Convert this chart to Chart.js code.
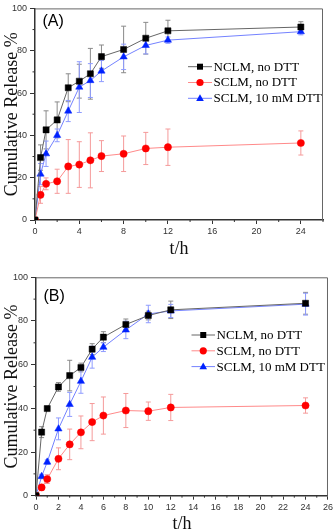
<!DOCTYPE html>
<html>
<head>
<meta charset="utf-8">
<script src="https://cdn.jsdelivr.net/npm/chart.js@4.4.0/dist/chart.umd.min.js"></script>
<style>
  html, body { margin: 0; padding: 0; background: #fff; }
  #wrap { position: relative; width: 335px; height: 532px; }
  canvas { position: absolute; left: 0; }
</style>
</head>
<body>
<div id="wrap">
  <canvas id="chartA" width="335" height="266" style="top:0"></canvas>
  <canvas id="chartB" width="335" height="266" style="top:266px"></canvas>
</div>
<script>
// temps (h)
var temps = [0, 0.5, 1, 2, 3, 4, 5, 6, 8, 10, 12, 24];
var series = ['NCLM, no DTT', 'SCLM, no DTT', 'SCLM, 10 mM DTT'];

// panneau (A)
var nclmA = [0, 29.5, 42.6, 47.3, 62.5, 65.6, 69.1, 77.2, 80.6, 85.9, 89.4, 91.2];
var nclmAErr = [0, 6, 9, 8.5, 6.6, 8, 12, 5.5, 11, 7.5, 5, 2.5];
var sclmA = [0, 11.9, 17.1, 18.3, 25.3, 26.2, 28.2, 30.2, 31.3, 33.8, 34.4, 36.4];
var sclmAErr = [0, 4, 2.8, 5.7, 12.7, 10.8, 13, 7.3, 8.4, 7.6, 8.6, 5.7];
var dttA = [0, 21.7, 31.3, 40, 51.5, 62.8, 65.9, 70.4, 77.1, 82.5, 85, 89];
var dttAErr = [0, 5, 6, 3, 5, 12, 8, 5, 6, 4, 1.5, 1.5];

// panneau (B)
var nclmB = [0, 29.1, 39.9, 49.8, 55, 58.7, 67.1, 72.6, 78.4, 82.5, 85.1, 88.1];
var nclmBErr = [0, 2.5, 1, 2, 7, 2, 2.5, 2.5, 2.5, 2, 4, 5];
var sclmB = [0, 3.8, 7.6, 16.9, 23.5, 29, 33.7, 36.7, 39, 38.7, 40.4, 41.3];
var sclmBErr = [0, 1, 2, 5, 7, 7.5, 8.5, 8.5, 7.8, 4.2, 6, 3.5];
var dttB = [0, 8.8, 15.4, 30.6, 41.8, 52.4, 63.4, 68, 75.9, 83.2, 84.6, 87.7];
var dttBErr = [0, 1, 1, 5, 5.5, 5.5, 5, 2, 4, 4, 3, 5];

// graduations
var yTicks = [0, 20, 40, 60, 80, 100];
var xTicksA = [0, 4, 8, 12, 16, 20, 24];
var xTicksB = [0, 2, 4, 6, 8, 10, 12, 14, 16, 18, 20, 22, 24, 26];

var styles = [
  { line: '#666666', fill: '#000000', err: '#8a8a8a', shape: 'rect', r: 4.3 },
  { line: '#ff8a8a', fill: '#ff0000', err: '#f59a9a', shape: 'circle', r: 3.6 },
  { line: '#7482ff', fill: '#0022ff', err: '#8f9cff', shape: 'triangle', r: 4.2 }
];

function pts(vals) {
  return temps.map(function (t, i) { return { x: t, y: vals[i] }; });
}

function makeDatasets(vals, errs) {
  return vals.map(function (v, k) {
    var s = styles[k];
    return {
      label: series[k],
      data: pts(v),
      errors: errs[k],
      errColor: s.err,
      borderColor: s.line,
      borderWidth: 1,
      tension: 0,
      pointStyle: s.shape,
      pointRadius: s.r,
      pointBackgroundColor: s.fill,
      pointBorderColor: s.fill,
      pointBorderWidth: 0.5,
      clip: 0
    };
  });
}

// barres d'erreur
var errorBars = {
  id: 'errorBars',
  beforeDatasetsDraw: function (chart) {
    var ctx = chart.ctx;
    var ys = chart.scales.y;
    chart.data.datasets.forEach(function (ds, k) {
      var meta = chart.getDatasetMeta(k);
      ctx.save();
      ctx.strokeStyle = ds.errColor;
      ctx.lineWidth = 1;
      meta.data.forEach(function (p, i) {
        var e = ds.errors[i];
        if (!e) return;
        var v = ds.data[i].y;
        var top = ys.getPixelForValue(v + e);
        var bot = ys.getPixelForValue(v - e);
        ctx.beginPath();
        ctx.moveTo(p.x, top); ctx.lineTo(p.x, bot);
        ctx.moveTo(p.x - 2.5, top); ctx.lineTo(p.x + 2.5, top);
        ctx.moveTo(p.x - 2.5, bot); ctx.lineTo(p.x + 2.5, bot);
        ctx.stroke();
      });
      ctx.restore();
    });
  }
};

// cadre, petites graduations, étiquette et légende
var decor = {
  id: 'decor',
  afterDraw: function (chart, args, opts) {
    var ctx = chart.ctx;
    var a = chart.chartArea;
    var xs = chart.scales.x, ys = chart.scales.y;
    ctx.save();
    ctx.strokeStyle = '#666';
    ctx.lineWidth = 1;
    ctx.beginPath();
    ctx.moveTo(a.left, a.top + 0.5); ctx.lineTo(a.right - 0.5, a.top + 0.5); ctx.lineTo(a.right - 0.5, a.bottom);
    ctx.stroke();

    ctx.strokeStyle = '#333';
    ctx.beginPath();
    opts.minorX.forEach(function (t) {
      var x = xs.getPixelForValue(t);
      ctx.moveTo(x, a.bottom); ctx.lineTo(x, a.bottom + 2);
    });
    opts.minorY.forEach(function (t) {
      var y = ys.getPixelForValue(t);
      ctx.moveTo(a.left, y); ctx.lineTo(a.left - 2.5, y);
    });
    ctx.stroke();

    ctx.fillStyle = '#000';
    ctx.font = '16px "Liberation Sans", Arial, sans-serif';
    ctx.textBaseline = 'middle';
    ctx.textAlign = 'left';
    ctx.fillText(opts.tag, opts.tagX, opts.tagY);

    ctx.font = '13px "Liberation Serif", "Times New Roman", serif';
    series.forEach(function (name, k) {
      var s = styles[k];
      var y = opts.legY + k * opts.legDy;
      var cx = (opts.legX1 + opts.legX2) / 2;
      ctx.strokeStyle = s.line;
      ctx.lineWidth = 1;
      ctx.beginPath();
      ctx.moveTo(opts.legX1, y); ctx.lineTo(opts.legX2, y);
      ctx.stroke();
      ctx.fillStyle = s.fill;
      ctx.beginPath();
      if (s.shape === 'rect') {
        ctx.rect(cx - 3, y - 3, 6, 6);
      } else if (s.shape === 'circle') {
        ctx.arc(cx, y, 3.6, 0, Math.PI * 2);
      } else {
        ctx.moveTo(cx, y - 4); ctx.lineTo(cx + 3.8, y + 2.6); ctx.lineTo(cx - 3.8, y + 2.6); ctx.closePath();
      }
      ctx.fill();
      ctx.fillStyle = '#000';
      ctx.fillText(name, opts.legX2 + 1.5, y + 0.5);
    });
    ctx.restore();
  }
};

function makeChart(id, vals, errs, xTicks, cfg) {
  return new Chart(document.getElementById(id).getContext('2d'), {
    type: 'line',
    data: { datasets: makeDatasets(vals, errs) },
    options: {
      responsive: false,
      animation: false,
      layout: { padding: { top: cfg.top, right: cfg.right, left: 0, bottom: 0 } },
      plugins: {
        legend: { display: false },
        tooltip: { enabled: false },
        decor: cfg.decor
      },
      scales: {
        x: {
          type: 'linear',
          min: 0, max: 26,
          afterBuildTicks: function (s) { s.ticks = xTicks.map(function (v) { return { value: v }; }); },
          afterFit: function (s) { s.height = cfg.xh; },
          grid: { drawOnChartArea: false, drawTicks: true, tickLength: 4, tickColor: '#333' },
          border: { display: true, color: '#333', width: 1.5 },
          ticks: { autoSkip: false, maxRotation: 0, padding: 2, color: '#333',
                   font: { family: '"Liberation Sans", Arial, sans-serif', size: 9 } },
          title: { display: true, text: 't/h', color: '#111',
                   padding: { top: 0, bottom: cfg.xtPad },
                   font: { family: '"Liberation Serif", "Times New Roman", serif', size: 18, lineHeight: 1 } }
        },
        y: {
          min: 0, max: 100,
          afterBuildTicks: function (s) { s.ticks = yTicks.map(function (v) { return { value: v }; }); },
          afterFit: function (s) { s.width = cfg.yw; },
          grid: { drawOnChartArea: false, drawTicks: true, tickLength: 5, tickColor: '#333' },
          border: { display: true, color: '#333', width: 1.5 },
          ticks: { padding: 3, color: '#333',
                   font: { family: '"Liberation Sans", Arial, sans-serif', size: 9 } },
          title: { display: true, text: 'Cumulative Release %', color: '#111',
                   padding: { top: 3.5, bottom: 0 },
                   font: { family: '"Liberation Serif", "Times New Roman", serif', size: 18, lineHeight: 1 } }
        }
      }
    },
    plugins: [errorBars, decor]
  });
}

makeChart('chartA', [nclmA, sclmA, dttA], [nclmAErr, sclmAErr, dttAErr], xTicksA, {
  top: 5, right: 12, xh: 46, yw: 35, xtPad: 7.5,
  decor: {
    tag: '(A)', tagX: 42.5, tagY: 22,
    legX1: 188, legX2: 212, legY: 66.7, legDy: 15.8,
    minorX: [2, 6, 10, 14, 18, 22, 26],
    minorY: [10, 30, 50, 70, 90]
  }
});

makeChart('chartB', [nclmB, sclmB, dttB], [nclmBErr, sclmBErr, dttBErr], xTicksB, {
  top: 11.3, right: 6, xh: 36.3, yw: 36, xtPad: -1.5,
  decor: {
    tag: '(B)', tagX: 43.5, tagY: 30.7,
    legX1: 191.5, legX2: 215, legY: 69, legDy: 15.8,
    minorX: [1, 3, 5, 7, 9, 11, 13, 15, 17, 19, 21, 23, 25],
    minorY: [10, 30, 50, 70, 90]
  }
});
</script>
</body>
</html>
